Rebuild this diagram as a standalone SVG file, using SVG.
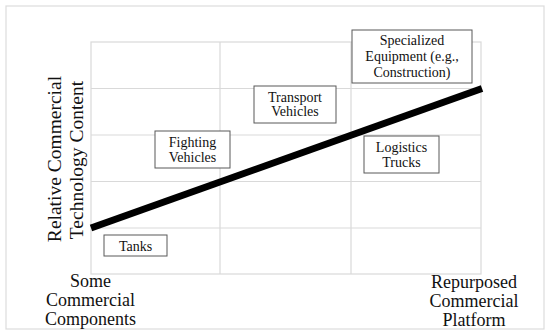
<svg xmlns="http://www.w3.org/2000/svg" width="550" height="336" viewBox="0 0 550 336">
<style>
.grid{stroke:#d9d9d9;stroke-width:1.2;fill:none}
.box{fill:#fff;stroke:#595959;stroke-width:1}
.lbl{font-family:"Liberation Serif","Times New Roman",serif;font-size:14px;fill:#111;text-anchor:middle}
.ax{font-family:"Liberation Serif","Times New Roman",serif;font-size:18px;fill:#111;text-anchor:middle}
.ay{font-family:"Liberation Serif","Times New Roman",serif;font-size:19.5px;fill:#111;text-anchor:middle}
</style>
<rect x="0" y="0" width="550" height="336" fill="#fff"/>
<rect x="6" y="6" width="538" height="323" fill="#fff" stroke="#dcdcdc" stroke-width="1.2"/>
<g id="grid">
<rect class="grid" x="91" y="42" width="390" height="232"/>
<line class="grid" x1="220" y1="42" x2="220" y2="274"/>
<line class="grid" x1="351" y1="42" x2="351" y2="274"/>
<line class="grid" x1="91" y1="88.5" x2="481" y2="88.5"/>
<line class="grid" x1="91" y1="135" x2="481" y2="135"/>
<line class="grid" x1="91" y1="181.5" x2="481" y2="181.5"/>
<line class="grid" x1="91" y1="228" x2="481" y2="228"/>
</g>
<g id="connectors">
<line x1="91" y1="228" x2="482" y2="88.5" stroke="#000" stroke-width="7"/>
</g>
<g id="tanks" font-family="Liberation Serif, serif">
<rect class="box" x="104" y="235" width="63" height="21"/>
<text class="lbl" x="135.5" y="251">Tanks</text>
</g>
<g id="fighting" font-family="Liberation Serif, serif">
<rect class="box" x="155" y="131" width="75" height="37"/>
<text class="lbl" x="192.5" y="147">Fighting</text>
<text class="lbl" x="192.5" y="161.5">Vehicles</text>
</g>
<g id="transport" font-family="Liberation Serif, serif">
<rect class="box" x="254" y="86" width="82" height="37"/>
<text class="lbl" x="295" y="101.5">Transport</text>
<text class="lbl" x="295" y="116">Vehicles</text>
</g>
<g id="specialized" font-family="Liberation Serif, serif">
<rect class="box" x="352" y="30" width="120" height="53"/>
<text class="lbl" x="412" y="45">Specialized</text>
<text class="lbl" x="412" y="61">Equipment (e.g.,</text>
<text class="lbl" x="412" y="76.5">Construction)</text>
</g>
<g id="logistics" font-family="Liberation Serif, serif">
<rect class="box" x="364" y="136" width="75" height="37"/>
<text class="lbl" x="401.5" y="152">Logistics</text>
<text class="lbl" x="401.5" y="166.5">Trucks</text>
</g>
<g id="y-axis-label">
<text class="ay" transform="translate(61,159) rotate(-90)">Relative Commercial</text>
<text class="ay" transform="translate(83,160) rotate(-90)">Technology Content</text>
</g>
<g id="x-axis-left">
<text class="ax" x="90.5" y="287">Some</text>
<text class="ax" x="90.5" y="306">Commercial</text>
<text class="ax" x="90.5" y="325">Components</text>
</g>
<g id="x-axis-right">
<text class="ax" x="474" y="288">Repurposed</text>
<text class="ax" x="474" y="307">Commercial</text>
<text class="ax" x="474" y="326">Platform</text>
</g>
</svg>
